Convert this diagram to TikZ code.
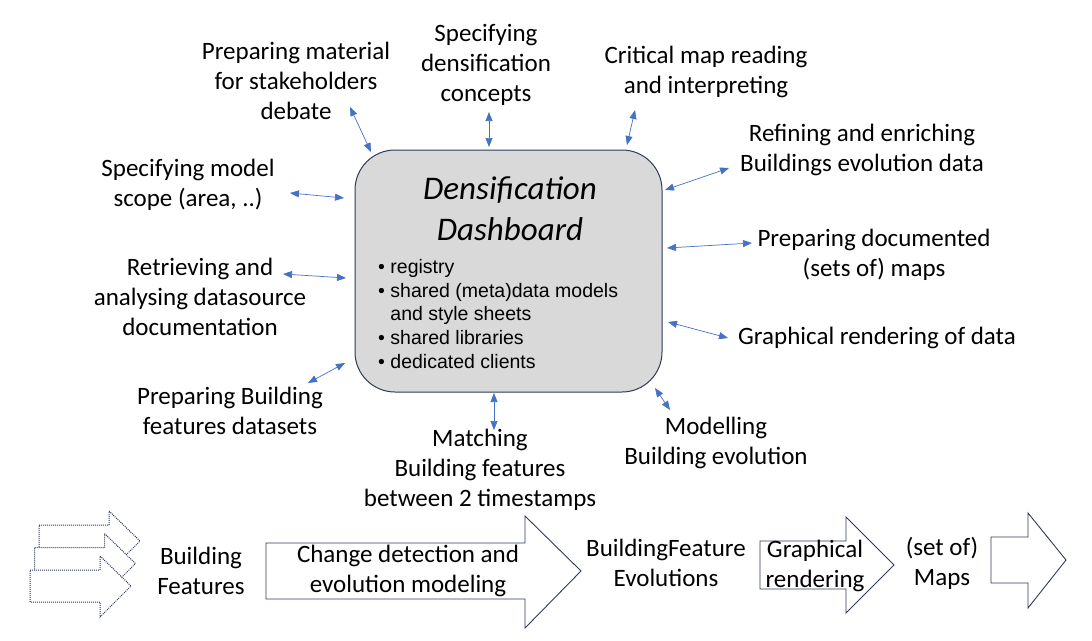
\documentclass[tikz,border=0pt]{standalone}
\usepackage{fontspec}
\setmainfont{Carlito}
\newfontfamily\listfont{Liberation Sans}
\usepackage{tikz}
\usetikzlibrary{arrows.meta}
\definecolor{dashgray}{HTML}{D9D9D9}
\definecolor{edge}{HTML}{2F3B5C}
\definecolor{linkblue}{HTML}{4472C4}

\begin{document}
\begin{tikzpicture}[x=1pt,y=-1pt,
    task/.style={align=center,inner sep=0pt,font=\fontsize{25}{30}\selectfont},
    duplex/.style={linkblue,line width=0.7pt,{Triangle[length=9pt,width=7pt]}-{Triangle[length=9pt,width=7pt]}}]
  \useasboundingbox (0,0) rectangle (1092,640);
  % central dashboard
  \node[draw=edge,fill=dashgray,line width=1pt,rounded corners=40pt,
        minimum width=307pt,minimum height=242pt,inner sep=0pt] (board) at (508.5,271) {};
  \node[font=\fontsize{33}{41}\selectfont\itshape,align=center] (title) at (510,209)
    {Densification\\Dashboard};
  \node[anchor=west,align=left,inner sep=0pt,font=\listfont\fontsize{19.5}{23.7}\selectfont] (items) at (378,314)
    {\textbullet\ registry\\
     \textbullet\ shared (meta)data models\\
     \phantom{\textbullet\ }and style sheets\\
     \textbullet\ shared libraries\\
     \textbullet\ dedicated clients};
  % tasks around it
  \node[task] (prep)  at (296,81)  {Preparing material\\for stakeholders\\debate};
  \node[task] (spec)  at (486,65)  {Specifying\\densification\\concepts};
  \node[task] (crit)  at (706,72)  {Critical map reading\\and interpreting};
  \node[task] (refin) at (862,150) {Refining and enriching\\Buildings evolution data};
  \node[task] (scope) at (188,185) {Specifying model\\scope (area, ..)};
  \node[task] (docs)  at (874,255) {Preparing documented\\(sets of) maps};
  \node[task] (retr)  at (200,297) {Retrieving and\\analysing datasource\\documentation};
  \node[task] (rend)  at (877,338) {Graphical rendering of data};
  \node[task] (feat)  at (230,411) {Preparing Building\\features datasets};
  \node[task] (model) at (716,443) {Modelling\\Building evolution};
  \node[task] (match) at (480,470) {Matching\\Building features\\between 2 timestamps};
  % double arrows
  \foreach \n/\a/\b in {1/{350,107}/{371,152},2/{489,112}/{489,147},3/{635,110}/{627,145},
      4/{729,168}/{665,190},5/{290,193}/{344,198},6/{752,243}/{667,248},
      7/{283,274}/{346,278},8/{728,338}/{668,322},9/{345,363}/{308,383},
      10/{655,388}/{670,410},11/{494,393}/{494,430}}{
    \coordinate (a\n) at (\a);
    \coordinate (b\n) at (\b);
    \draw[duplex] (a\n) -- (b\n);
  }
  % process chain
  \foreach \dx/\dy in {9/-45,4.5/-22.5,0/0}{
    \draw[edge,densely dotted,line width=1pt,fill=white,shift={(\dx,\dy)}]
      (30,570) -- (100,570) -- (100,556) -- (131,586) -- (100,617) -- (100,602) -- (30,602) -- cycle;
  }
  \node[task] (bf) at (201,571) {Building\\Features};
  \draw[edge,line width=0.9pt] (266,543) -- (525,543) -- (525,516) -- (581,571)
    -- (525,628) -- (525,599) -- (266,599) -- cycle;
  \node[task] (detect) at (408,571) {Change detection and\\evolution modeling};
  \node[task] (bfe) at (666,563) {BuildingFeature\\Evolutions};
  \draw[edge,line width=0.9pt] (760,541) -- (846,541) -- (846,517) -- (894,565)
    -- (846,613) -- (846,589) -- (760,589) -- cycle;
  \node[task] (graph) at (815,566) {Graphical\\rendering};
  \node[task] (maps) at (942,563) {(set of)\\Maps};
  \draw[edge,line width=0.9pt] (991,537) -- (1028,537) -- (1028,513) -- (1066,560)
    -- (1028,608) -- (1028,583) -- (991,583) -- cycle;
\end{tikzpicture}
\end{document}
